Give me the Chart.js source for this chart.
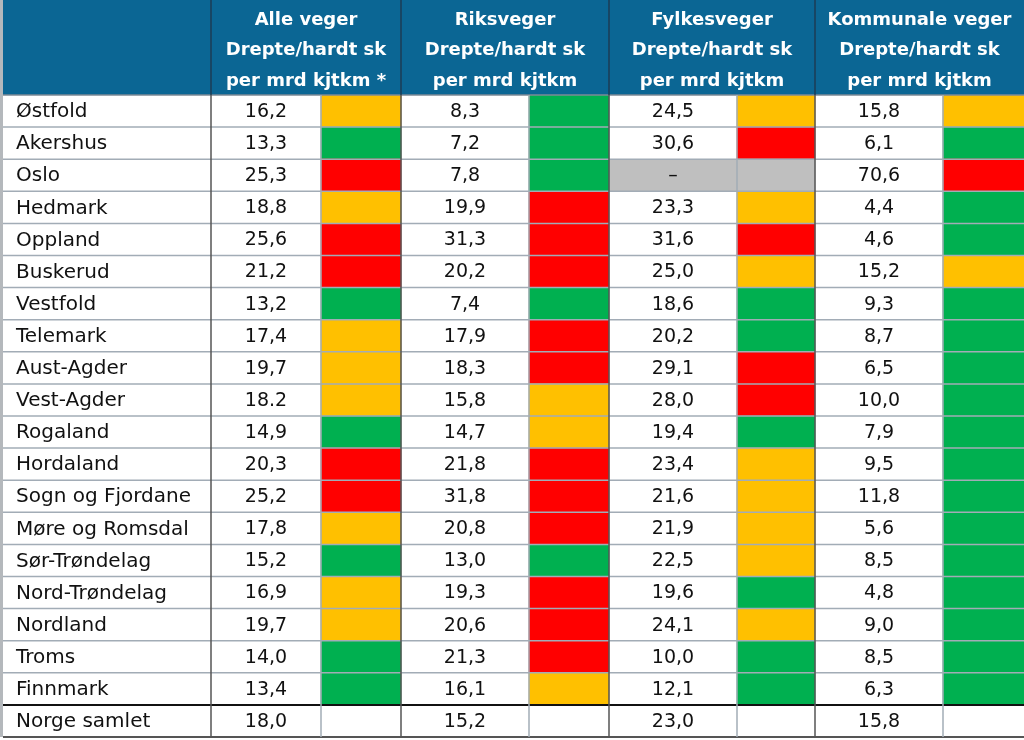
<!DOCTYPE html>
<html>
<head>
<meta charset="utf-8">
<script src="https://cdn.jsdelivr.net/npm/chart.js@4.4.1/dist/chart.umd.min.js"></script>
<style>
  html, body { margin: 0; padding: 0; background: #fff; }
</style>
</head>
<body>
<canvas id="tabell" width="1024" height="740"></canvas>
<script>
/* data -----------------------------------------------------------------*/
const fylker = ['Østfold', 'Akershus', 'Oslo', 'Hedmark', 'Oppland', 'Buskerud', 'Vestfold',
    'Telemark', 'Aust-Agder', 'Vest-Agder', 'Rogaland', 'Hordaland', 'Sogn og Fjordane',
    'Møre og Romsdal', 'Sør-Trøndelag', 'Nord-Trøndelag', 'Nordland', 'Troms', 'Finnmark',
    'Norge samlet'];

const kolonner = ['Alle veger', 'Riksveger', 'Fylkesveger', 'Kommunale veger'];
const enhet = ['Drepte/hardt sk', 'per mrd kjtkm'];

const alleVeger = [16.2, 13.3, 25.3, 18.8, 25.6, 21.2, 13.2, 17.4, 19.7, 18.2, 14.9, 20.3, 25.2, 17.8, 15.2, 16.9, 19.7, 14.0, 13.4, 18.0];
const riksVeger = [8.3, 7.2, 7.8, 19.9, 31.3, 20.2, 7.4, 17.9, 18.3, 15.8, 14.7, 21.8, 31.8, 20.8, 13.0, 19.3, 20.6, 21.3, 16.1, 15.2];
const fylkesVeger = [24.5, 30.6, null, 23.3, 31.6, 25.0, 18.6, 20.2, 29.1, 28.0, 19.4, 23.4, 21.6, 21.9, 22.5, 19.6, 24.1, 10.0, 12.1, 23.0];
const kommunaleVeger = [15.8, 6.1, 70.6, 4.4, 4.6, 15.2, 9.3, 8.7, 6.5, 10.0, 7.9, 9.5, 11.8, 5.6, 8.5, 4.8, 9.0, 8.5, 6.3, 15.8];

// G = gronn, O = gul, R = rod, X = mangler, '' = ingen
const alleFarge = ['O', 'G', 'R', 'O', 'R', 'R', 'G', 'O', 'O', 'O', 'G', 'R', 'R', 'O', 'G', 'O', 'O', 'G', 'G', ''];
const riksFarge = ['G', 'G', 'G', 'R', 'R', 'R', 'G', 'R', 'R', 'O', 'O', 'R', 'R', 'R', 'G', 'R', 'R', 'R', 'O', ''];
const fylkesFarge = ['O', 'R', 'X', 'O', 'R', 'O', 'G', 'G', 'R', 'R', 'G', 'O', 'O', 'O', 'O', 'G', 'O', 'G', 'G', ''];
const kommunaleFarge = ['O', 'G', 'R', 'G', 'G', 'O', 'G', 'G', 'G', 'G', 'G', 'G', 'G', 'G', 'G', 'G', 'G', 'G', 'G', ''];

/* layout -----------------------------------------------------------------*/
const headerH = 95;
// [value cell start, colour cell start, colour cell end] in x-axis units
const kolPos = [[211, 321, 401], [401, 529, 609], [609, 737, 815], [815, 943, 1024]];
const fargeKode = { G: '#00b050', O: '#ffc000', R: '#ff0000', X: '#bfbfbf', '': 'rgba(0,0,0,0)' };
const font = '"DejaVu Sans", sans-serif';

const verdier = [alleVeger, riksVeger, fylkesVeger, kommunaleVeger];
const farger = [alleFarge, riksFarge, fylkesFarge, kommunaleFarge];

function tall(v) {
    return v === null ? '–' : v.toFixed(1).replace('.', ',');
}

const datasets = farger.map(function (f, k) {
    return {
        label: kolonner[k],
        data: f.map(function (c) { return c ? [kolPos[k][1], kolPos[k][2]] : null; }),
        backgroundColor: f.map(function (c) { return fargeKode[c]; }),
        borderWidth: 0,
        grouped: false,
        barPercentage: 1,
        categoryPercentage: 1
    };
});

/* table drawing --------------------------------------------------------*/
const tabellPlugin = {
    id: 'tabell',
    beforeDatasetsDraw(chart) {
        const c = chart.ctx, x = chart.scales.x, y = chart.scales.y;
        const h = y.getPixelForValue(1) - y.getPixelForValue(0);
        // grey value cell where data is missing
        verdier.forEach(function (arr, k) {
            arr.forEach(function (v, i) {
                if (v === null) {
                    const yc = y.getPixelForValue(i);
                    c.fillStyle = fargeKode.X;
                    c.fillRect(x.getPixelForValue(kolPos[k][0]), yc - h / 2, x.getPixelForValue(kolPos[k][1]) - x.getPixelForValue(kolPos[k][0]), h);
                }
            });
        });
    },
    afterDatasetsDraw(chart) {
        const c = chart.ctx, x = chart.scales.x, y = chart.scales.y;
        const h = y.getPixelForValue(1) - y.getPixelForValue(0);
        const top = y.getPixelForValue(0) - h / 2;
        const bottom = y.getPixelForValue(fylker.length - 1) + h / 2;
        c.save();

        // header
        c.fillStyle = '#0b6694';
        c.fillRect(3, 0, chart.width - 3, top);
        c.fillStyle = '#ffffff';
        c.font = '600 18px ' + font;
        c.textAlign = 'center';
        c.textBaseline = 'middle';
        kolonner.forEach(function (navn, k) {
            const xc = (x.getPixelForValue(kolPos[k][0]) + x.getPixelForValue(kolPos[k][2])) / 2;
            c.fillText(navn, xc, 20);
            c.fillText(enhet[0], xc, 50);
            c.fillText(enhet[1] + (k === 0 ? ' *' : ''), xc, 81);
        });

        // horizontal lines
        for (let i = 1; i < fylker.length; i++) {
            const yy = y.getPixelForValue(i) - h / 2;
            c.strokeStyle = i === fylker.length - 1 ? '#111111' : '#a2acb6';
            c.lineWidth = i === fylker.length - 1 ? 2 : 1.5;
            c.beginPath(); c.moveTo(3, yy); c.lineTo(chart.width, yy); c.stroke();
        }
        c.strokeStyle = '#555555';
        c.lineWidth = 2;
        c.beginPath(); c.moveTo(3, bottom); c.lineTo(chart.width, bottom); c.stroke();
        c.strokeStyle = '#7d8a96';
        c.lineWidth = 1.5;
        c.beginPath(); c.moveTo(3, top); c.lineTo(chart.width, top); c.stroke();

        // vertical lines
        kolPos.forEach(function (p) {
            const x0 = x.getPixelForValue(p[0]), x1 = x.getPixelForValue(p[1]);
            c.lineWidth = 1.5;
            c.strokeStyle = '#1d3d55';
            c.beginPath(); c.moveTo(x0, 0); c.lineTo(x0, top); c.stroke();
            c.strokeStyle = '#555555';
            c.beginPath(); c.moveTo(x0, top); c.lineTo(x0, bottom); c.stroke();
            c.strokeStyle = '#a2acb6';
            c.beginPath(); c.moveTo(x1, top); c.lineTo(x1, bottom); c.stroke();
        });
        c.strokeStyle = '#b4b8bc';
        c.lineWidth = 3;
        c.beginPath(); c.moveTo(1.5, 0); c.lineTo(1.5, bottom); c.stroke();

        // cell text
        c.fillStyle = '#111111';
        c.textBaseline = 'middle';
        fylker.forEach(function (navn, i) {
            const yc = y.getPixelForValue(i) + 1;
            c.font = '20px ' + font;
            c.textAlign = 'left';
            c.fillText(navn, 16, yc);
            c.font = '19px ' + font;
            c.textAlign = 'center';
            verdier.forEach(function (arr, k) {
                const xc = (x.getPixelForValue(kolPos[k][0]) + x.getPixelForValue(kolPos[k][1])) / 2;
                let t = tall(arr[i]);
                if (k === 0 && navn === 'Vest-Agder') t = t.replace(',', '.');
                c.fillText(t, xc, yc);
            });
        });
        c.restore();
    }
};

new Chart(document.getElementById('tabell'), {
    type: 'bar',
    data: { labels: fylker, datasets: datasets },
    options: {
        indexAxis: 'y',
        responsive: false,
        animation: false,
        devicePixelRatio: 1,
        layout: { padding: { top: headerH, bottom: 3, left: 0, right: 0 } },
        scales: {
            x: { type: 'linear', min: 0, max: 1024, display: false },
            y: { type: 'category', display: false }
        },
        plugins: { legend: { display: false }, tooltip: { enabled: false } }
    },
    plugins: [tabellPlugin]
});
</script>
</body>
</html>
